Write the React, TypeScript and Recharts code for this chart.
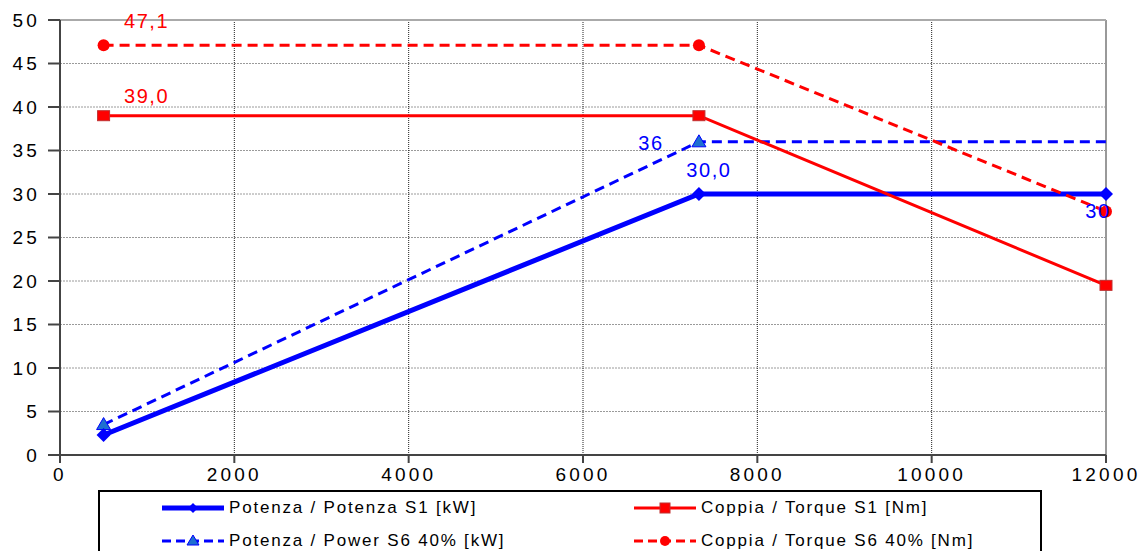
import React from "react";
import {
  LineChart,
  Line,
  XAxis,
  YAxis,
  CartesianGrid,
  Legend,
  ReferenceLine,
} from "recharts";

const rpm = [500, 7330, 12000];
const powerS1 = [2.3, 30, 30];
const powerS6 = [3.5, 36, 36];
const torqueS1 = [39, 39, 19.5];
const torqueS6 = [47.1, 47.1, 28];

const powerS1Labels = ["", "30,0", "30"];
const powerS6Labels = ["", "36", ""];
const torqueS1Labels = ["39,0", "", ""];
const torqueS6Labels = ["47,1", "", ""];

const xTicks = [0, 2000, 4000, 6000, 8000, 10000, 12000];
const yTicks = [0, 5, 10, 15, 20, 25, 30, 35, 40, 45, 50];

const FONT = "'Liberation Sans', Arial, sans-serif";
const BLUE = "#0000FF";
const RED = "#FF0000";

const data = rpm.map((r, i) => ({
  rpm: r,
  powerS1: powerS1[i],
  powerS6: powerS6[i],
  torqueS1: torqueS1[i],
  torqueS6: torqueS6[i],
}));

const Diamond = ({ cx, cy }: any) => (
  <path
    d={`M${cx},${cy - 7} L${cx + 7},${cy} L${cx},${cy + 7} L${cx - 7},${cy} Z`}
    fill={BLUE}
  />
);

const Triangle = ({ cx, cy, index }: any) =>
  index === 2 ? (
    <g />
  ) : (
    <path
      d={`M${cx},${cy - 7} L${cx + 7},${cy + 5} L${cx - 7},${cy + 5} Z`}
      fill="#1E6FD0"
      stroke={BLUE}
      strokeWidth={1}
    />
  );

const Square = ({ cx, cy }: any) => (
  <rect x={cx - 6} y={cy - 5} width={12} height={10} fill={RED} stroke="#C03030" strokeWidth={1} />
);

const Circle = ({ cx, cy }: any) => <circle cx={cx} cy={cy} r={6} fill={RED} />;

const makeLabel =
  (labels: string[], color: string, dx: number, dy: number, anchor: string) =>
  (props: any) => {
    const { x, y, index } = props;
    const t = labels[index];
    if (!t) return null;
    return (
      <text
        key={`l-${index}`}
        x={x + dx}
        y={y + dy}
        fill={color}
        fontSize={20}
        letterSpacing={1.6}
        fontFamily={FONT}
        textAnchor={anchor as any}
      >
        {t}
      </text>
    );
  };

const powerS1Label = (props: any) => {
  const { index } = props;
  if (index === 2) return makeLabel(powerS1Labels, BLUE, -8, 24, "middle")(props);
  return makeLabel(powerS1Labels, BLUE, 10, -17, "middle")(props);
};

const legendItems = [
  { name: "Potenza / Potenza S1 [kW]", color: BLUE, width: 5, dash: "", marker: "diamond" },
  { name: "Coppia / Torque S1 [Nm]", color: RED, width: 3, dash: "", marker: "square" },
  { name: "Potenza / Power S6 40% [kW]", color: BLUE, width: 3, dash: "9 5", marker: "triangle" },
  { name: "Coppia / Torque S6 40% [Nm]", color: RED, width: 3, dash: "9 5", marker: "circle" },
];

const LegendBox = () => (
  <div
    style={{
      border: "2px solid #000",
      width: 944,
      height: 80,
      boxSizing: "border-box",
      position: "relative",
      fontFamily: FONT,
      fontSize: 17,
      letterSpacing: 1.8,
      color: "#000",
      background: "#fff",
    }}
  >
    {legendItems.map((it, i) => {
      const col = i % 2;
      const row = Math.floor(i / 2);
      const left = col === 0 ? 62 : 534;
      const sw = 62;
      const top = row === 0 ? 4 : 37;
      const m = sw / 2;
      return (
        <div
          key={it.name}
          style={{ position: "absolute", left, top, display: "flex", alignItems: "center", height: 24, whiteSpace: "nowrap" }}
        >
          <svg width={sw} height={20} style={{ marginRight: 5 }}>
            <line x1={0} y1={10} x2={sw} y2={10} stroke={it.color} strokeWidth={it.width} strokeDasharray={it.dash} />
            {it.marker === "diamond" && <path d={`M${m},5 L${m + 5},10 L${m},15 L${m - 5},10 Z`} fill={BLUE} />}
            {it.marker === "triangle" && <path d={`M${m},4 L${m + 6},14 L${m - 6},14 Z`} fill="#1E6FD0" stroke={BLUE} />}
            {it.marker === "square" && <rect x={m - 5} y={5} width={10} height={10} fill={RED} stroke="#C03030" />}
            {it.marker === "circle" && <circle cx={m} cy={10} r={5} fill={RED} />}
          </svg>
          <span>{it.name}</span>
        </div>
      );
    })}
  </div>
);

const tickStyle = { fill: "#000", fontSize: 19, fontFamily: FONT, letterSpacing: 3.2 };

export default function App() {
  return (
    <div style={{ position: "absolute", left: 0, top: 0, background: "#fff" }}>
      <LineChart
        width={1141}
        height={551}
        data={data}
        margin={{ top: 20, right: 35, bottom: 66, left: 0 }}
      >
        <CartesianGrid
          horizontal={true}
          vertical={false}
          stroke="#9a9a9a"
          strokeDasharray="2 1"
        />
        <CartesianGrid
          horizontal={false}
          vertical={true}
          stroke="#222"
          strokeDasharray="1 1"
        />
        <XAxis
          dataKey="rpm"
          type="number"
          domain={[0, 12000]}
          ticks={xTicks}
          interval={0}
          stroke="#444"
          strokeWidth={2}
          tickSize={8}
          tickMargin={5}
          tick={tickStyle}
          height={30}
        />
        <YAxis
          type="number"
          domain={[0, 50]}
          ticks={yTicks}
          interval={0}
          stroke="#444"
          strokeWidth={2}
          tickSize={12}
          tickMargin={8}
          tick={tickStyle}
          width={60}
        />
        <ReferenceLine x={12000} stroke="#999" strokeWidth={2} />
        <ReferenceLine y={50} stroke="#aaa" strokeWidth={2} />
        <Line
          dataKey="powerS6"
          stroke={BLUE}
          strokeWidth={3}
          strokeDasharray="10 6"
          dot={<Triangle />}
          activeDot={false}
          label={makeLabel(powerS6Labels, BLUE, -48, 8, "middle")}
          isAnimationActive={false}
        />
        <Line
          dataKey="powerS1"
          stroke={BLUE}
          strokeWidth={5}
          dot={<Diamond />}
          activeDot={false}
          label={powerS1Label}
          isAnimationActive={false}
        />
        <Line
          dataKey="torqueS6"
          stroke={RED}
          strokeWidth={3}
          strokeDasharray="10 6"
          dot={<Circle />}
          activeDot={false}
          label={makeLabel(torqueS6Labels, RED, 43, -17, "middle")}
          isAnimationActive={false}
        />
        <Line
          dataKey="torqueS1"
          stroke={RED}
          strokeWidth={3}
          dot={<Square />}
          activeDot={false}
          label={makeLabel(torqueS1Labels, RED, 43, -13, "middle")}
          isAnimationActive={false}
        />
        <Legend
          layout="horizontal"
          verticalAlign="middle"
          align="center"
          content={() => <LegendBox />}
          wrapperStyle={{ left: 98, top: 490, width: 944, height: 80 }}
        />
      </LineChart>
    </div>
  );
}
